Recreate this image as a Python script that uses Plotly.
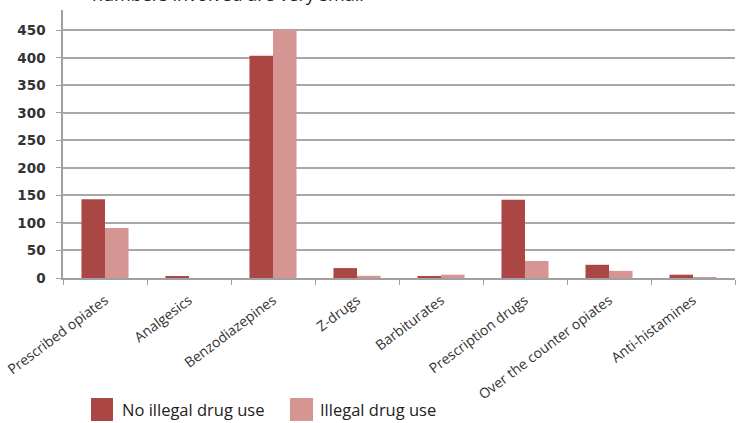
import plotly.graph_objects as go

categories = ["Prescribed opiates", "Analgesics", "Benzodiazepines", "Z-drugs",
              "Barbiturates", "Prescription drugs", "Over the counter opiates", "Anti-histamines"]
no_illegal = [143, 3, 404, 18, 2, 142, 24, 6]
illegal = [91, 0, 451, 4, 6, 31, 13, 1]
tick_vals = [0, 50, 100, 150, 200, 250, 300, 350, 400, 450]
series_names = ["No illegal drug use", "Illegal drug use"]
colors = ["#AA4643", "#D59593"]

W, H = 736, 423
L, R, T, B = 63, 1, 10, 145
pw, ph = W - L - R, H - T - B

def px(x):
    return (x - L) / pw

def py(y):
    return (H - B - y) / ph

fig = go.Figure()
fig.add_trace(go.Bar(x=categories, y=no_illegal, name=series_names[0],
                     marker=dict(color=colors[0], line=dict(width=0))))
fig.add_trace(go.Bar(x=categories, y=illegal, name=series_names[1],
                     marker=dict(color=colors[1], line=dict(width=0))))

fig.update_layout(
    width=W, height=H,
    margin=dict(l=L, r=R, t=T, b=B, pad=0),
    paper_bgcolor="white", plot_bgcolor="white",
    barmode="group", bargap=0.44, bargroupgap=0,
    showlegend=False,
    font=dict(family="Open Sans", color="#333333"),
)
fig.update_yaxes(range=[0, 487], tickvals=tick_vals, showgrid=True,
                 gridcolor="#A8A8A8", gridwidth=1.5,
                 showline=True, linecolor="#A0A0A0", linewidth=1.5,
                 ticks="outside", ticklen=5, tickcolor="#A0A0A0",
                 ticklabelstandoff=8,
                 tickfont=dict(family="DejaVu Sans", size=13.5, color="#333333", weight="bold"),
                 zeroline=False)
fig.update_xaxes(showline=True, linecolor="#A0A0A0", linewidth=1.5,
                 ticks="outside", ticklen=5, tickcolor="#A0A0A0",
                 tickson="boundaries", tickangle=-37, ticklabelstandoff=7,
                 tickfont=dict(family="Open Sans", size=14, color="#333333"))

# cut-off note at the top
fig.add_annotation(text="numbers involved are very small", xref="paper", yref="paper",
                   x=px(90), y=1, xanchor="left", yanchor="bottom", yshift=2,
                   showarrow=False, font=dict(family="Open Sans", size=18, color="#222222"))

# legend drawn manually (large square swatches)
legend_items = [(91, 113, 120), (290, 313, 318)]
for (x0, x1, tx), name, col in zip(legend_items, series_names, colors):
    fig.add_shape(type="rect", xref="paper", yref="paper",
                  x0=px(x0), x1=px(x1), y0=py(421), y1=py(398),
                  fillcolor=col, line=dict(width=0))
    fig.add_annotation(text=name, xref="paper", yref="paper",
                       x=px(tx), y=py(410), xanchor="left", yanchor="middle",
                       showarrow=False, font=dict(family="Open Sans", size=16.5, color="#222222"))

fig.write_html("out.html", config={"displayModeBar": False},
               post_script="document.body.style.margin='0';document.body.style.overflow='hidden';")
